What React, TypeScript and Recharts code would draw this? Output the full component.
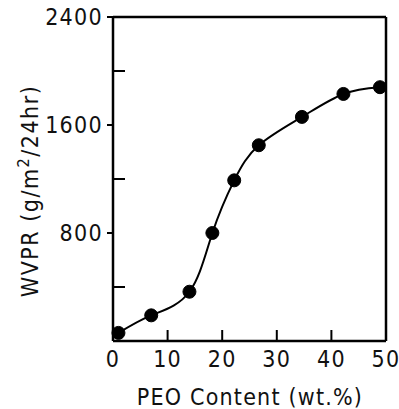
import React from 'react';
import {
    LineChart,
    Line,
    XAxis,
    YAxis,
    ReferenceLine,
} from 'recharts';

const peoContent = [1, 7, 14, 18.2, 22.2, 26.7, 34.6, 42.2, 48.9];
const wvpr = [60, 190, 365, 800, 1190, 1450, 1660, 1830, 1880];

const xTicks = [0, 10, 20, 30, 40, 50];
const yTicks = [0, 400, 800, 1200, 1600, 2000, 2400];
const yLabelled = [800, 1600, 2400];

const data = peoContent.map((x, i) => ({ x, y: wvpr[i] }));

const FONT = '"DejaVu Sans Condensed", "DejaVu Sans", sans-serif';

const XTick = (props: any) => {
    const { x, y, payload } = props;
    const v = payload.value;
    return (
        <g>
            {v !== 0 && v !== 50 && (
                <line x1={x} x2={x} y1={y} y2={y - 11} stroke="#000" strokeWidth={2} />
            )}
            <text x={x} y={y + 26} textAnchor="middle" fontSize={23} letterSpacing={1.3} fontFamily={FONT} fill="#111">
                {v}
            </text>
        </g>
    );
};

const YTick = (props: any) => {
    const { x, y, payload } = props;
    const v = payload.value;
    if (v === 0) return <g />;
    if (yLabelled.includes(v)) {
        return (
            <g>
                <line x1={x - 6} x2={x} y1={y} y2={y} stroke="#000" strokeWidth={2} />
                <text x={x - 10} y={y + 8} textAnchor="end" fontSize={23} letterSpacing={1.3} fontFamily={FONT} fill="#111">
                    {v}
                </text>
            </g>
        );
    }
    return <line x1={x} x2={x + 12} y1={y} y2={y} stroke="#000" strokeWidth={2} />;
};

const XTitle = () => (
    <text x={250} y={405} textAnchor="middle" fontSize={23} letterSpacing={1.2} fontFamily={FONT} fill="#111">
        PEO Content (wt.%)
    </text>
);

const YTitle = () => (
    <text
        x={38}
        y={191}
        transform="rotate(-90, 38, 191)"
        textAnchor="middle"
        fontSize={23}
        letterSpacing={1.5}
        fontFamily={FONT}
        fill="#111"
    >
        WVPR (g/m
        <tspan dy={-9} fontSize={16}>2</tspan>
        <tspan dy={9}>/24hr)</tspan>
    </text>
);

const App = () => {
    return (
        <div style={{ position: 'absolute', left: 0, top: 0 }}>
            <LineChart
                width={399}
                height={409}
                data={data}
                margin={{ top: 17, right: 13, bottom: 8, left: 53 }}
            >
                <XAxis
                    dataKey="x"
                    type="number"
                    domain={[0, 50]}
                    ticks={xTicks}
                    interval={0}
                    height={60}
                    tickSize={0}
                    tickMargin={0}
                    tickLine={false}
                    tick={XTick}
                    axisLine={{ stroke: '#000', strokeWidth: 2.5 }}
                    label={XTitle}
                />
                <YAxis
                    dataKey="y"
                    type="number"
                    domain={[0, 2400]}
                    ticks={yTicks}
                    interval={0}
                    width={60}
                    tickSize={0}
                    tickMargin={0}
                    tickLine={false}
                    tick={YTick}
                    axisLine={{ stroke: '#000', strokeWidth: 2.5 }}
                    label={YTitle}
                />
                <ReferenceLine y={2400} stroke="#000" strokeWidth={2.5} />
                <ReferenceLine x={50} stroke="#000" strokeWidth={2.5} />
                <Line
                    type="natural"
                    dataKey="y"
                    stroke="#000"
                    strokeWidth={2}
                    dot={{ r: 6.5, fill: '#000', stroke: '#000', strokeWidth: 1 }}
                    activeDot={false}
                    isAnimationActive={false}
                />
            </LineChart>
        </div>
    );
};

export default App;
